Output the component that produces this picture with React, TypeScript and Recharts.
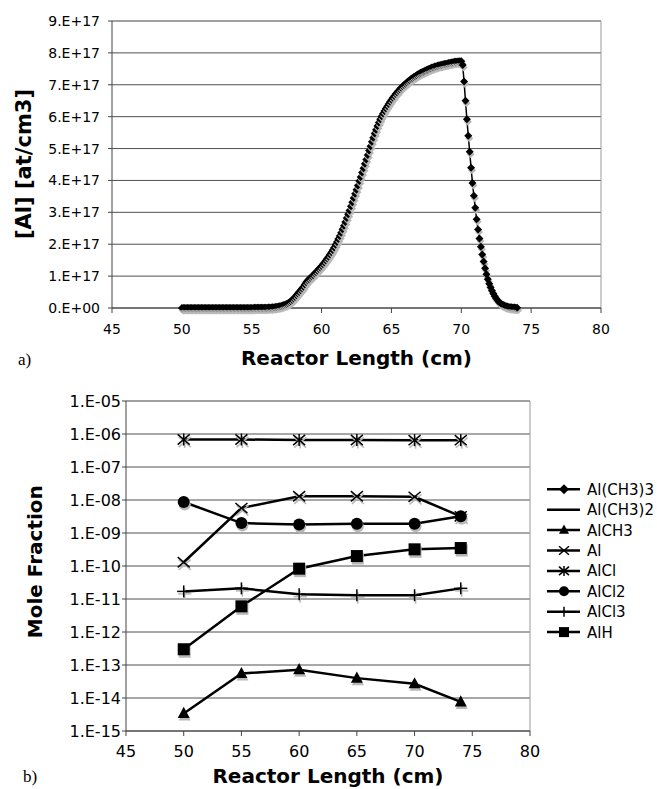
import React from 'react';
import { LineChart, Line, XAxis, YAxis, CartesianGrid, ReferenceLine } from 'recharts';

// ---------- Chart a): [Al] (units of 1e17 at/cm3), sampled every 0.1 cm starting at 50.0 cm
const alStart = 50.0;
const alStep = 0.1;
const alConc: number[] = [
  0, 0, 0, 0, 0, 0, 0, 0, 0, 0,
  0, 0, 0, 0, 0, 0, 0, 0, 0, 0,
  0, 0, 0, 0, 0, 0, 0, 0, 0, 0.001,
  0.001, 0.001, 0.001, 0.001, 0.001, 0.001, 0.001, 0.001, 0.001, 0.001,
  0.001, 0.001, 0.002, 0.002, 0.002, 0.002, 0.002, 0.003, 0.003, 0.003,
  0.003, 0.003, 0.004, 0.004, 0.005, 0.005, 0.006, 0.006, 0.007, 0.008,
  0.010, 0.011, 0.013, 0.015, 0.018, 0.022, 0.026, 0.031, 0.037, 0.045,
  0.055, 0.066, 0.078, 0.092, 0.108, 0.128, 0.152, 0.180, 0.213, 0.252,
  0.296, 0.345, 0.398, 0.452, 0.505, 0.558, 0.612, 0.668, 0.735, 0.810,
  0.865, 0.905, 0.945, 0.99, 1.03, 1.08, 1.12, 1.17, 1.22, 1.27,
  1.32, 1.37, 1.43, 1.49, 1.55, 1.61, 1.68, 1.75, 1.82, 1.90,
  1.98, 2.07, 2.16, 2.26, 2.36, 2.47, 2.58, 2.70, 2.82, 2.94,
  3.06, 3.19, 3.32, 3.45, 3.58, 3.71, 3.84, 3.98, 4.11, 4.25,
  4.38, 4.52, 4.66, 4.80, 4.94, 5.07, 5.21, 5.34, 5.47, 5.59,
  5.71, 5.82, 5.92, 6.01, 6.10, 6.18, 6.26, 6.33, 6.40, 6.47,
  6.53, 6.59, 6.65, 6.71, 6.76, 6.81, 6.86, 6.91, 6.95, 6.99,
  7.03, 7.07, 7.11, 7.14, 7.18, 7.21, 7.24, 7.27, 7.30, 7.33,
  7.35, 7.38, 7.40, 7.42, 7.44, 7.46, 7.48, 7.50, 7.52, 7.54,
  7.55, 7.57, 7.58, 7.60, 7.61, 7.62, 7.63, 7.64, 7.65, 7.66,
  7.67, 7.68, 7.69, 7.70, 7.71, 7.72, 7.72, 7.73, 7.73, 7.74,
  7.74, 7.62, 7.10, 6.50, 5.92, 5.40, 4.90, 4.40, 3.92, 3.52,
  3.14, 2.78, 2.46, 2.18, 1.92, 1.68, 1.46, 1.25, 1.06, 0.90,
  0.76, 0.64, 0.54, 0.45, 0.37, 0.30, 0.24, 0.19, 0.15, 0.12,
  0.095, 0.075, 0.058, 0.045, 0.035, 0.027, 0.021, 0.016, 0.012, 0.009,
  0.007,
];
const xTicks = [45, 50, 55, 60, 65, 70, 75, 80];
const yTicksA = [0, 1, 2, 3, 4, 5, 6, 7, 8, 9];
const yTickLabelsA = ['0.E+00', '1.E+17', '2.E+17', '3.E+17', '4.E+17', '5.E+17', '6.E+17', '7.E+17', '8.E+17', '9.E+17'];

// ---------- Chart b): mole fractions
const lengthsB = [50, 55, 60, 65, 70, 74];
const alCH3 = [3.4e-15, 5.5e-14, 7.2e-14, 4.0e-14, 2.7e-14, 7.6e-15];
const al = [1.3e-10, 5.7e-9, 1.3e-8, 1.3e-8, 1.25e-8, 3.2e-9];
const alCl = [6.8e-7, 6.8e-7, 6.6e-7, 6.6e-7, 6.5e-7, 6.5e-7];
const alCl2 = [8.7e-9, 2.0e-9, 1.8e-9, 1.9e-9, 1.9e-9, 3.2e-9];
const alCl3 = [1.7e-11, 2.1e-11, 1.4e-11, 1.3e-11, 1.3e-11, 2.1e-11];
const alH = [3.0e-13, 6.0e-12, 8.3e-11, 2.0e-10, 3.2e-10, 3.5e-10];
const yTicksB = [1e-15, 1e-14, 1e-13, 1e-12, 1e-11, 1e-10, 1e-9, 1e-8, 1e-7, 1e-6, 1e-5];
const yTickLabelsB = ['1.E-15', '1.E-14', '1.E-13', '1.E-12', '1.E-11', '1.E-10', '1.E-09', '1.E-08', '1.E-07', '1.E-06', '1.E-05'];

type Shape = 'diamond' | 'none' | 'triangle' | 'x' | 'asterisk' | 'circle' | 'plus' | 'square';

const legendSeries: { name: string; shape: Shape }[] = [
  { name: 'Al(CH3)3', shape: 'diamond' },
  { name: 'Al(CH3)2', shape: 'none' },
  { name: 'AlCH3', shape: 'triangle' },
  { name: 'Al', shape: 'x' },
  { name: 'AlCl', shape: 'asterisk' },
  { name: 'AlCl2', shape: 'circle' },
  { name: 'AlCl3', shape: 'plus' },
  { name: 'AlH', shape: 'square' },
];

const plottedB: { key: string; values: number[]; shape: Shape }[] = [
  { key: 'AlCH3', values: alCH3, shape: 'triangle' },
  { key: 'Al', values: al, shape: 'x' },
  { key: 'AlCl', values: alCl, shape: 'asterisk' },
  { key: 'AlCl2', values: alCl2, shape: 'circle' },
  { key: 'AlCl3', values: alCl3, shape: 'plus' },
  { key: 'AlH', values: alH, shape: 'square' },
];

const dataA = alConc.map((v, i) => ({ x: Math.round((alStart + i * alStep) * 10) / 10, v }));
const dataB = lengthsB.map((x, i) => {
  const row: Record<string, number> = { x };
  plottedB.forEach((s) => (row[s.key] = s.values[i]));
  return row;
});

const FONT = '"DejaVu Sans", Verdana, sans-serif';

function Mark({ shape, cx, cy, s, color }: { shape: Shape; cx: number; cy: number; s: number; color: string }) {
  switch (shape) {
    case 'diamond':
      return <polygon points={`${cx},${cy - s} ${cx + s},${cy} ${cx},${cy + s} ${cx - s},${cy}`} fill={color} />;
    case 'triangle':
      return <polygon points={`${cx},${cy - s * 1.1} ${cx + s},${cy + s * 0.75} ${cx - s},${cy + s * 0.75}`} fill={color} />;
    case 'circle':
      return <circle cx={cx} cy={cy} r={s} fill={color} />;
    case 'square':
      return <rect x={cx - s} y={cy - s} width={2 * s} height={2 * s} fill={color} />;
    case 'x':
      return (
        <g stroke={color} strokeWidth={1.5}>
          <line x1={cx - s} y1={cy - s * 0.85} x2={cx + s} y2={cy + s * 0.85} />
          <line x1={cx - s} y1={cy + s * 0.85} x2={cx + s} y2={cy - s * 0.85} />
        </g>
      );
    case 'asterisk':
      return (
        <g stroke={color} strokeWidth={1.5}>
          <line x1={cx - s} y1={cy - s * 0.85} x2={cx + s} y2={cy + s * 0.85} />
          <line x1={cx - s} y1={cy + s * 0.85} x2={cx + s} y2={cy - s * 0.85} />
          <line x1={cx} y1={cy - s} x2={cx} y2={cy + s} />
        </g>
      );
    case 'plus':
      return (
        <g stroke={color} strokeWidth={1.5}>
          <line x1={cx - s * 1.1} y1={cy} x2={cx + s * 1.1} y2={cy} />
          <line x1={cx} y1={cy - s} x2={cx} y2={cy + s} />
        </g>
      );
    default:
      return null;
  }
}

const makeDot = (shape: Shape, s: number, prefix: string) => (props: any) => {
  const { cx, cy, index } = props;
  const k = `${prefix}-${index}`;
  if (cx == null || cy == null || isNaN(cx) || isNaN(cy)) return <g key={k} />;
  return (
    <g key={k}>
      <Mark shape={shape} cx={cx + 1} cy={cy + 2.5} s={s} color="#b8b8b8" />
      <Mark shape={shape} cx={cx} cy={cy} s={s} color="#000" />
    </g>
  );
};

const GRID = '#505050';
const BORDER = '#9a9a9a';
const AXIS = '#444';

function ChartA() {
  return (
    <LineChart width={657} height={390} data={dataA} margin={{ top: 21, right: 56, bottom: 0, left: 0 }}>
      <CartesianGrid vertical={false} stroke={GRID} />
      <XAxis
        dataKey="x"
        type="number"
        domain={[45, 80]}
        ticks={xTicks}
        height={82}
        tickSize={5}
        tickMargin={11}
        stroke={AXIS}
        tick={{ fill: '#000', fontSize: 14, fontFamily: FONT }}
        interval={0}
      />
      <YAxis
        type="number"
        domain={[0, 9]}
        ticks={yTicksA}
        width={112}
        tickSize={4}
        tickMargin={8}
        stroke={AXIS}
        tick={{ fill: '#000', fontSize: 14, fontFamily: FONT }}
        tickFormatter={(v: number) => yTickLabelsA[yTicksA.indexOf(v)] ?? ''}
        interval={0}
      />
      <ReferenceLine y={9} stroke={BORDER} />
      <ReferenceLine x={80} stroke={BORDER} />
      <Line
        dataKey="v"
        stroke="#000"
        strokeWidth={1.5}
        isAnimationActive={false}
        dot={makeDot('diamond', 4, 'a')}
        activeDot={false}
      />
    </LineChart>
  );
}

function ChartB() {
  return (
    <LineChart width={657} height={409} data={dataB} margin={{ top: 21, right: 127, bottom: 0, left: 0 }}>
      <CartesianGrid vertical={false} stroke={GRID} />
      <XAxis
        dataKey="x"
        type="number"
        domain={[45, 80]}
        ticks={xTicks}
        height={58}
        tickSize={5}
        tickMargin={10}
        stroke={AXIS}
        tick={{ fill: '#000', fontSize: 16, fontFamily: FONT }}
        interval={0}
      />
      <YAxis
        type="number"
        scale="log"
        domain={[1e-15, 1e-5]}
        allowDataOverflow
        ticks={yTicksB}
        width={126}
        tickSize={4}
        tickMargin={1}
        stroke={AXIS}
        tick={{ fill: '#000', fontSize: 16, fontFamily: FONT }}
        tickFormatter={(v: number) => {
          const i = yTicksB.findIndex((t) => Math.abs(Math.log10(t) - Math.log10(v)) < 1e-6);
          return i >= 0 ? yTickLabelsB[i] : '';
        }}
        interval={0}
      />
      <ReferenceLine y={1e-5} stroke={BORDER} />
      <ReferenceLine x={80} stroke={BORDER} />
      {plottedB.map((s) => (
        <Line
          key={s.key}
          dataKey={s.key}
          stroke="#000"
          strokeWidth={2.5}
          isAnimationActive={false}
          dot={makeDot(s.shape, 6, s.key)}
          activeDot={false}
        />
      ))}
    </LineChart>
  );
}

function Overlay() {
  const legendTop = 489.3;
  const legendGap = 20.4;
  return (
    <svg width={657} height={789} style={{ position: 'absolute', left: 0, top: 0, pointerEvents: 'none' }}>
      <text transform="translate(31,164) rotate(-90)" textAnchor="middle" fontFamily={FONT} fontWeight="bold" fontSize={21} fill="#000">
        [Al] [at/cm3]
      </text>
      <text x={356.5} y={365} textAnchor="middle" fontFamily={FONT} fontWeight="bold" fontSize={20} fill="#000">
        Reactor Length (cm)
      </text>
      <text x={18} y={365} fontFamily='"Liberation Serif", serif' fontSize={17} fill="#000">
        a)
      </text>
      <text transform="translate(41.5,561.7) rotate(-90)" textAnchor="middle" fontFamily={FONT} fontWeight="bold" fontSize={20} fill="#000">
        Mole Fraction
      </text>
      <text x={328} y={783} textAnchor="middle" fontFamily={FONT} fontWeight="bold" fontSize={20} fill="#000">
        Reactor Length (cm)
      </text>
      <text x={23} y={782} fontFamily='"Liberation Serif", serif' fontSize={17} fill="#000">
        b)
      </text>
      {legendSeries.map((s, i) => {
        const y = legendTop + i * legendGap;
        return (
          <g key={s.name}>
            <line x1={547} y1={y} x2={580} y2={y} stroke="#000" strokeWidth={2.5} />
            <Mark shape={s.shape} cx={564} cy={y} s={5} color="#000" />
            <text x={587} y={y + 5.5} fontFamily={FONT} fontSize={15} fill="#000">
              {s.name}
            </text>
          </g>
        );
      })}
    </svg>
  );
}

export default function App() {
  return (
    <div style={{ position: 'absolute', left: 0, top: 0, width: 657, height: 789, background: '#fff', overflow: 'hidden' }}>
      <div style={{ position: 'absolute', left: 0, top: 0 }}>
        <ChartA />
      </div>
      <div style={{ position: 'absolute', left: 0, top: 380 }}>
        <ChartB />
      </div>
      <Overlay />
    </div>
  );
}
